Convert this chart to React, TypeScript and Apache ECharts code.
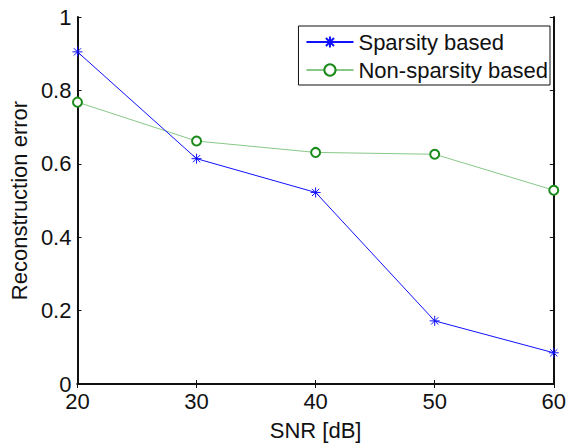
import React, { useEffect, useRef } from "react";
import * as echarts from "echarts";

const snr = [20, 30, 40, 50, 60];
const sparsity = [0.905, 0.614, 0.522, 0.172, 0.085];
const nonSparsity = [0.768, 0.662, 0.631, 0.626, 0.528];
const seriesNames = ["Sparsity based", "Non-sparsity based"];
const xTicks = [20, 30, 40, 50, 60];
const yTicks = [0, 0.2, 0.4, 0.6, 0.8, 1];

const STAR = "path://M0,-5L0,5M-5,0L5,0M-3.6,-3.6L3.6,3.6M-3.6,3.6L3.6,-3.6";
const FONT = "Liberation Sans, Arial, sans-serif";

export default function App() {
  const ref = useRef<HTMLDivElement>(null);
  useEffect(() => {
    if (!ref.current) return;
    const chart = echarts.init(ref.current, null, { renderer: "svg" });
    const axisLine = { show: true, lineStyle: { color: "#111", width: 2 } };
    const tick = { show: true, inside: true, length: 4, lineStyle: { color: "#111", width: 1 } };
    chart.setOption({
      animation: false,
      backgroundColor: "#fff",
      textStyle: { fontFamily: FONT },
      grid: { left: 77, top: 17, right: 13, bottom: 53, containLabel: false },
      legend: {
        orient: "vertical",
        right: 19,
        top: 26,
        data: seriesNames,
        backgroundColor: "#fff",
        borderColor: "#111",
        borderWidth: 1,
        borderRadius: 0,
        padding: [5, 2, 4, 7],
        itemGap: 6,
        itemWidth: 47,
        itemHeight: 14,
        textStyle: { fontSize: 22, color: "#111", fontFamily: FONT },
      },
      xAxis: [
        {
          type: "value",
          min: xTicks[0],
          max: xTicks[xTicks.length - 1],
          interval: 10,
          position: "bottom",
          name: "SNR [dB]",
          nameLocation: "middle",
          nameGap: 35,
          nameTextStyle: { fontSize: 22, color: "#111", fontFamily: FONT },
          axisLine,
          axisTick: tick,
          axisLabel: { fontSize: 22, color: "#111", margin: 6, fontFamily: FONT },
          splitLine: { show: false },
        },
        {
          type: "value",
          min: xTicks[0],
          max: xTicks[xTicks.length - 1],
          interval: 10,
          position: "top",
          axisLine,
          axisTick: tick,
          axisLabel: { show: false },
          splitLine: { show: false },
        },
      ],
      yAxis: [
        {
          type: "value",
          min: yTicks[0],
          max: yTicks[yTicks.length - 1],
          interval: 0.2,
          position: "left",
          name: "Reconstruction error",
          nameLocation: "middle",
          nameGap: 47,
          nameTextStyle: { fontSize: 22, color: "#111", fontFamily: FONT },
          axisLine,
          axisTick: tick,
          axisLabel: {
            fontSize: 22,
            color: "#111",
            margin: 6,
            fontFamily: FONT,
            formatter: (v: number) => String(Math.round(v * 10) / 10),
          },
          splitLine: { show: false },
        },
        {
          type: "value",
          min: yTicks[0],
          max: yTicks[yTicks.length - 1],
          interval: 0.2,
          position: "right",
          axisLine,
          axisTick: tick,
          axisLabel: { show: false },
          splitLine: { show: false },
        },
      ],
      series: [
        {
          name: seriesNames[0],
          type: "line",
          data: snr.map((x, i) => [x, sparsity[i]]),
          symbol: STAR,
          symbolSize: 10,
          lineStyle: { color: "#1010ff", width: 1 },
          itemStyle: { color: "#1010ff", borderColor: "#1010ff", borderWidth: 1 },
          z: 3,
        },
        {
          name: seriesNames[1],
          type: "line",
          data: snr.map((x, i) => [x, nonSparsity[i]]),
          symbol: "emptyCircle",
          symbolSize: 9,
          lineStyle: { color: "#88c888", width: 1 },
          itemStyle: { color: "#1a8a1a", borderColor: "#1a8a1a", borderWidth: 1.2 },
          z: 2,
        },
      ],
    });
    return () => chart.dispose();
  }, []);
  return (
    <div
      ref={ref}
      style={{ position: "fixed", left: 0, top: 0, width: 569, height: 446 }}
    />
  );
}
